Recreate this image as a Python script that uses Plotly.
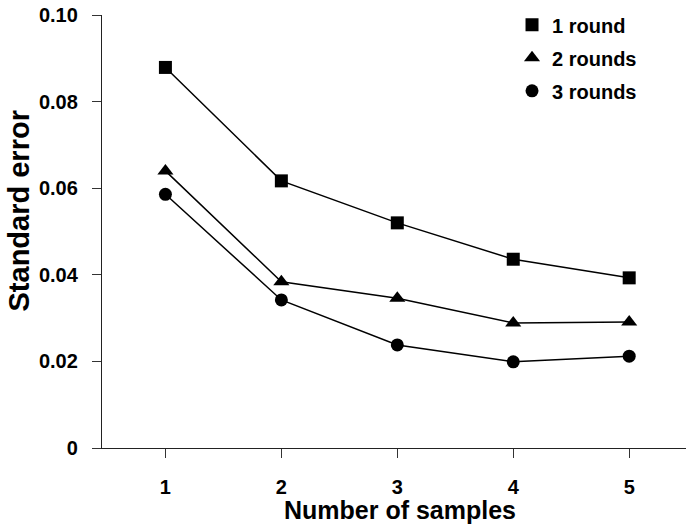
import plotly.graph_objects as go

samples = [1, 2, 3, 4, 5]
one_round = [0.0879, 0.0617, 0.0520, 0.0436, 0.0393]
two_rounds = [0.0640, 0.0384, 0.0346, 0.0289, 0.0291]
three_rounds = [0.0586, 0.0342, 0.0238, 0.0199, 0.0212]
series_names = ["1 round", "2 rounds", "3 rounds"]
symbols = ["square", "triangle-up", "circle"]
y_ticks = [0, 0.02, 0.04, 0.06, 0.08, 0.10]
y_tick_text = ["0", "0.02", "0.04", "0.06", "0.08", "0.10"]
x_title = "Number of samples"
y_title = "Standard error"

FONT = "Liberation Sans, Arial, Helvetica, sans-serif"

fig = go.Figure()
for i, (name, vals, sym) in enumerate(zip(series_names, [one_round, two_rounds, three_rounds], symbols)):
    msize = 14 if sym == "triangle-up" else 13
    fig.add_trace(go.Scatter(
        x=samples, y=vals, name=name, mode="lines",
        line=dict(color="black", width=1.5),
        showlegend=False, hoverinfo="skip", legendgroup=f"g{i}",
    ))
    fig.add_trace(go.Scatter(
        x=samples, y=vals, name=name, mode="markers",
        marker=dict(symbol=sym, size=msize, color="black"),
        legendgroup=f"g{i}",
    ))

fig.update_layout(
    width=687, height=526,
    margin=dict(l=102, r=1, t=15, b=78, autoexpand=False),
    paper_bgcolor="white", plot_bgcolor="white",
    font=dict(family=FONT, size=19, color="black"),
    showlegend=True,
    legend=dict(x=0.7453, y=0.9898, xref="container", yref="container",
                xanchor="left", yanchor="top",
                font=dict(family=FONT, size=20, color="black", weight="bold"),
                tracegroupgap=4, bgcolor="rgba(0,0,0,0)"),
    xaxis=dict(
        range=[0.453, 5.49], tickvals=samples, ticktext=[str(s) for s in samples],
        showgrid=False, zeroline=False, showline=True, linecolor="#222", linewidth=1.3,
        ticks="outside", ticklen=9, tickcolor="#333", tickwidth=1.3,
        tickfont=dict(family=FONT, size=20, weight="bold"),
        ticklabelstandoff=12, automargin=False,
    ),
    yaxis=dict(
        range=[0, 0.10001], tickvals=y_ticks, ticktext=y_tick_text,
        showgrid=False, zeroline=False, showline=True, linecolor="#222", linewidth=1.3,
        ticks="outside", ticklen=9, tickcolor="#333", tickwidth=1.3,
        tickfont=dict(family=FONT, size=20, weight="bold"),
        ticklabelstandoff=10, automargin=False,
    ),
    annotations=[
        dict(text=f"<b>{x_title}</b>", xref="paper", yref="paper", x=0.5111, y=-0.1443,
             xanchor="center", yanchor="middle", showarrow=False,
             font=dict(family=FONT, size=25, color="black")),
        dict(text=f"<b>{y_title}</b>", xref="paper", yref="paper", x=-0.1413, y=0.5473,
             xanchor="center", yanchor="middle", showarrow=False, textangle=-90,
             font=dict(family=FONT, size=29, color="black")),
    ],
)

fig.write_html(
    "out.html",
    config={"displayModeBar": False},
    post_script="document.body.style.margin='0';document.documentElement.style.margin='0';",
)
